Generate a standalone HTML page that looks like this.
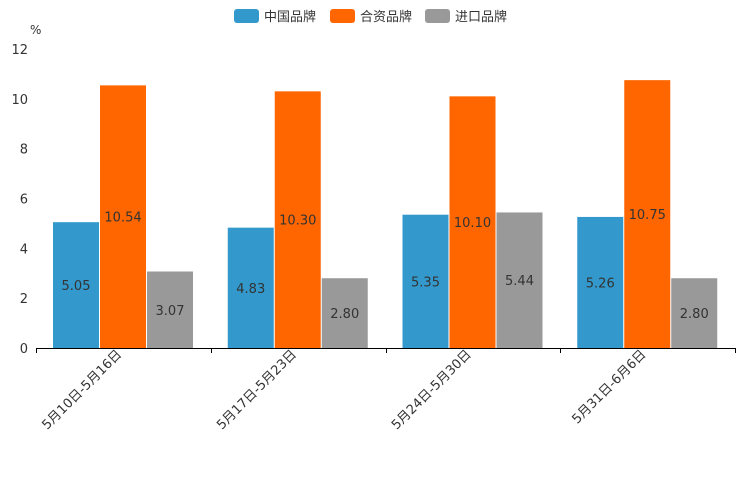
<!DOCTYPE html>
<html><head><meta charset="utf-8"><style>
body{margin:0;background:#fff;}
svg{display:block;font-family:"DejaVu Sans","Liberation Sans","Noto Sans CJK SC",sans-serif;}
</style></head><body>
<svg id="c" width="744" height="496">
<g id="legend">
<g><rect x="234" y="9" width="25" height="14" rx="3" fill="#3399cc"/><text x="264" y="21" font-size="13" fill="#333">中国品牌</text></g>
<g><rect x="330" y="9" width="25" height="14" rx="3" fill="#ff6600"/><text x="360" y="21" font-size="13" fill="#333">合资品牌</text></g>
<g><rect x="425" y="9" width="25" height="14" rx="3" fill="#999999"/><text x="455" y="21" font-size="13" fill="#333">进口品牌</text></g>
</g>
<text x="30" y="34" font-size="12" fill="#333">%</text>
<g id="plot"></g>
</svg>
<script>
const categories=["5月10日-5月16日","5月17日-5月23日","5月24日-5月30日","5月31日-6月6日"];
const china=[5.05,4.83,5.35,5.26];
const jv=[10.54,10.30,10.10,10.75];
const imported=[3.07,2.80,5.44,2.80];
const yTicks=[0,2,4,6,8,10,12];
const colors=["#3399cc","#ff6600","#999999"];
const x0=36,x1=735,yb=348,yt=49,ymax=12;
const y=v=>yb-(v/ymax)*(yb-yt);
const bw=(x1-x0)/categories.length;
const g=document.getElementById('plot');
const NS="http://www.w3.org/2000/svg";
function mk(t,a){const e=document.createElementNS(NS,t);for(const k in a)e.setAttribute(k,a[k]);g.appendChild(e);return e;}
yTicks.forEach(t=>{const e=mk('text',{x:28,y:y(t)+5,'text-anchor':'end','font-size':13,fill:'#333'});e.textContent=t;

});
const series=[china,jv,imported];
const names=['china','jv','import'];
categories.forEach((c,i)=>{
 const gx=x0+i*bw;
 series.forEach((s,j)=>{
  const bx=gx+17+j*47;
  const r=mk('rect',{x:bx,y:y(s[i]),width:46,height:yb-y(s[i]),fill:colors[j]});
  
  
  const t=mk('text',{x:bx+23,y:(y(s[i])+yb)/2+5,'text-anchor':'middle','font-size':13,fill:'#333'});
  t.textContent=s[i].toFixed(2);
  
  
 });
 const cx=gx+bw/2-1;
 const l=mk('text',{x:cx,y:355,'text-anchor':'end','font-size':13,fill:'#333',transform:`rotate(-45 ${cx} 355)`});
 l.textContent=c;
 
 
});
const ax=mk('line',{x1:x0,y1:yb+0.5,x2:x1,y2:yb+0.5,stroke:'#000'});


for(let i=0;i<=categories.length;i++){const tx=Math.round(x0+i*bw)+0.5;const tk=mk('line',{x1:tx,y1:yb,x2:tx,y2:yb+5,stroke:'#000'});

}
</script>
</body></html>
